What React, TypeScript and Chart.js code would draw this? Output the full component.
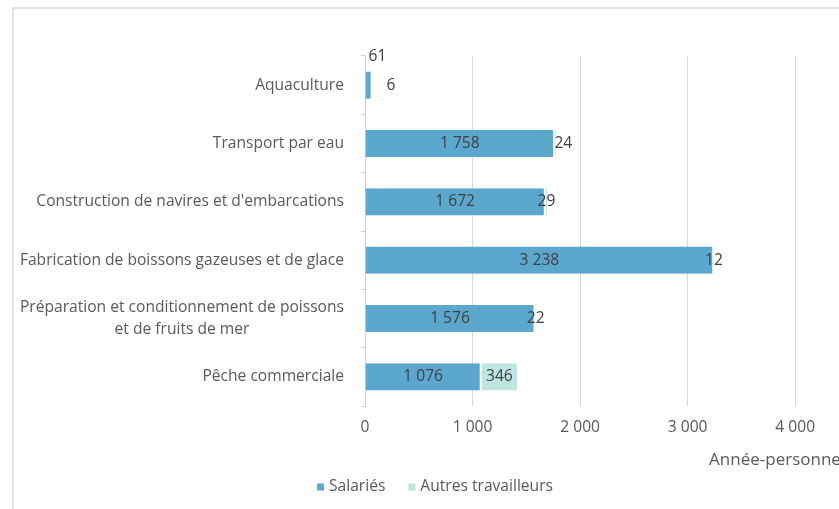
import React, { useEffect, useRef } from "react";
import { Chart, registerables } from "chart.js";

Chart.register(...registerables);

const categories: (string | string[])[] = [
  "Aquaculture",
  "Transport par eau",
  "Construction de navires et d'embarcations",
  "Fabrication de boissons gazeuses et de glace",
  ["Préparation et conditionnement de poissons", "et de fruits de mer"],
  "Pêche commerciale",
];
const salaries = [61, 1758, 1672, 3238, 1576, 1076];
const autres = [6, 24, 29, 12, 22, 346];
const xTickValues = [0, 1000, 2000, 3000, 4000];
const xMax = 4500;
const seriesNames = ["Salariés", "Autres travailleurs"];
const axisTitle = "Année-personnes";

const COLORS = ["#5BA7CD", "#BDE6E0"];
const FONT = "'Open Sans', sans-serif";
const TEXT = "#595959";
const LABEL = "#404040";
const FS = 15.6;

// small pixel nudges for data labels that Excel moved to avoid overlaps
const labelNudges = [
  [[9, -29], [0, 0], [0, 0], [0, 0], [0, 0], [0, 0]],
  [[19, 0], [8, 0], [0, 0], [0, 0], [0, 0], [0, 0]],
];

const fmt = (n: number) => String(n).replace(/\B(?=(\d{3})+(?!\d))/g, " ");

const customPlugin = {
  id: "customLabels",
  afterDatasetsDraw(chart: any) {
    const { ctx, chartArea } = chart;
    const yScale = chart.scales.y;
    ctx.save();
    ctx.font = `${FS}px ${FONT}`;
    ctx.fillStyle = TEXT;
    ctx.textBaseline = "middle";
    ctx.textAlign = "center";
    categories.forEach((lab, i) => {
      const lines = Array.isArray(lab) ? lab : [lab];
      const y = yScale.getPixelForValue(i);
      const maxW = Math.max(...lines.map((l) => ctx.measureText(l).width));
      const cx = chartArea.left - 21 - maxW / 2;
      lines.forEach((l, k) =>
        ctx.fillText(l, cx, y + (k - (lines.length - 1) / 2) * 21.5)
      );
    });

    ctx.fillStyle = LABEL;
    chart.data.datasets.forEach((ds: any, di: number) => {
      const meta = chart.getDatasetMeta(di);
      meta.data.forEach((el: any, i: number) => {
        const p = el.getProps(["x", "y", "base"], true);
        const [dx, dy] = labelNudges[di][i];
        ctx.fillText(fmt(ds.data[i]), (p.x + p.base) / 2 + dx, p.y + dy);
      });
    });

    // legend
    ctx.textAlign = "left";
    ctx.fillStyle = TEXT;
    const box = 7;
    const gapBox = 5;
    const gapItem = 23;
    const widths = seriesNames.map((n) => ctx.measureText(n).width);
    const total =
      widths.reduce((a, w) => a + box + gapBox + w, 0) + gapItem * (seriesNames.length - 1);
    let x = chart.width / 2 - total / 2;
    const y = chartArea.bottom + 81;
    seriesNames.forEach((n, i) => {
      ctx.fillStyle = COLORS[i];
      ctx.fillRect(x, y - box / 2, box, box);
      x += box + gapBox;
      ctx.fillStyle = TEXT;
      ctx.fillText(n, x, y);
      x += widths[i] + gapItem;
    });
    ctx.restore();
  },
};

export default function App() {
  const ref = useRef<HTMLCanvasElement>(null);
  useEffect(() => {
    const chart = new Chart(ref.current as HTMLCanvasElement, {
      type: "bar",
      data: {
        labels: categories.map((c) => (Array.isArray(c) ? c.join(" ") : c)),
        datasets: [
          {
            label: seriesNames[0],
            data: salaries,
            backgroundColor: COLORS[0],
            borderColor: "#ffffff",
            borderWidth: { left: 0, right: 1, top: 0, bottom: 0 },
            borderSkipped: false,
          },
          {
            label: seriesNames[1],
            data: autres,
            backgroundColor: COLORS[1],
            borderColor: "#ffffff",
            borderWidth: { left: 1, right: 1, top: 0, bottom: 0 },
            borderSkipped: false,
          },
        ],
      },
      options: {
        indexAxis: "y",
        responsive: false,
        animation: false,
        datasets: { bar: { categoryPercentage: 1, barPercentage: 0.465 } },
        layout: { padding: { left: 0, right: 7, top: 47, bottom: 39 } },
        plugins: { legend: { display: false }, tooltip: { enabled: false } },
        scales: {
          x: {
            type: "linear",
            stacked: true,
            min: 0,
            max: xMax,
            afterBuildTicks: (s: any) => {
              s.ticks = xTickValues.map((v) => ({ value: v }));
            },
            afterFit: (s: any) => {
              s.height = 64;
            },
            grid: { color: "#d9d9d9", drawTicks: false, lineWidth: 1 },
            border: { display: false },
            ticks: {
              padding: 12,
              color: TEXT,
              font: { family: FONT, size: FS },
              callback: (v: any) => fmt(Number(v)),
            },
            title: {
              display: true,
              text: axisTitle,
              align: "end",
              color: TEXT,
              font: { family: FONT, size: 17 },
              padding: 0,
            },
          },
          y: {
            type: "category",
            stacked: true,
            afterFit: (s: any) => {
              s.width = 351;
            },
            grid: { drawOnChartArea: false, offset: true, tickLength: 4, color: "#d0d0d0" },
            border: { display: true, color: "#d0d0d0" },
            ticks: { display: false },
          },
        },
      } as any,
      plugins: [customPlugin],
    });
    return () => chart.destroy();
  }, []);

  return (
    <div
      style={{
        position: "absolute",
        left: 0,
        top: 0,
        width: 839,
        height: 509,
        overflow: "hidden",
        background: "#ffffff",
      }}
    >
      <div
        style={{
          position: "absolute",
          left: 12,
          top: 7,
          width: 900,
          height: 560,
          borderLeft: "2px solid #e1e1e1",
          borderTop: "2px solid #e1e1e1",
        }}
      >
        <canvas
          ref={ref}
          width={842}
          height={500}
          style={{ position: "absolute", left: 0, top: 0 }}
        />
      </div>
    </div>
  );
}
